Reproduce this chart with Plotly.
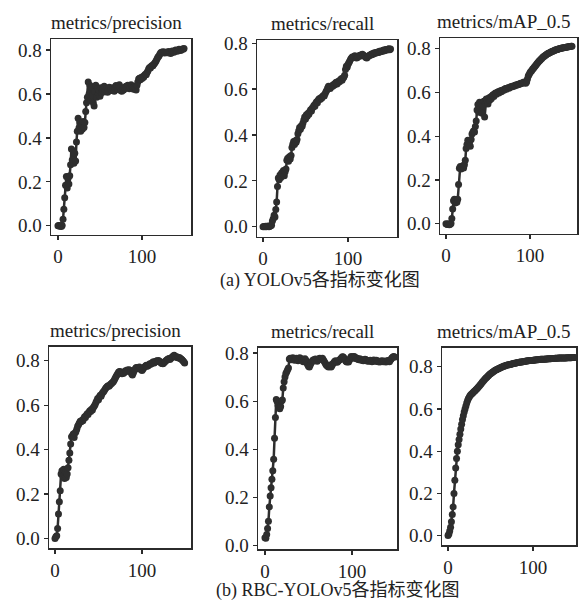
import plotly.graph_objects as go

# ---------------- data ----------------
panel_titles = ["metrics/precision", "metrics/recall", "metrics/mAP_0.5",
                "metrics/precision", "metrics/recall", "metrics/mAP_0.5"]
captions = ["(a) YOLOv5各指标变化图", "(b) RBC-YOLOv5各指标变化图"]
x_ticks = [0, 100]
y_ticks = [0.0, 0.2, 0.4, 0.6, 0.8]

yolo_precision = [
    0.000, 0.001, -0.002, 0.000, -0.003, 0.002, 0.030, 0.075, 0.128, 0.185,
    0.225, 0.172, 0.215, 0.190, 0.228, 0.278, 0.350, 0.300, 0.342, 0.285,
    0.330, 0.295, 0.382, 0.430, 0.490, 0.445, 0.472, 0.430, 0.465, 0.440,
    0.475, 0.448, 0.470, 0.520, 0.560, 0.585, 0.655, 0.600, 0.640, 0.570,
    0.630, 0.595, 0.560, 0.545, 0.610, 0.640, 0.585, 0.625, 0.600, 0.615,
    0.590, 0.628, 0.605, 0.620, 0.612, 0.635, 0.610, 0.618, 0.625, 0.608,
    0.620, 0.630, 0.615, 0.622, 0.618, 0.628, 0.620, 0.612, 0.625, 0.638,
    0.630, 0.620, 0.632, 0.642, 0.628, 0.615, 0.612, 0.625, 0.618, 0.630,
    0.625, 0.635, 0.628, 0.640, 0.632, 0.624, 0.630, 0.642, 0.635, 0.628,
    0.622, 0.630, 0.625, 0.618, 0.640, 0.655, 0.668, 0.672, 0.665, 0.675,
    0.670, 0.680, 0.676, 0.685, 0.690, 0.688, 0.698, 0.705, 0.715, 0.720,
    0.718, 0.726, 0.730, 0.728, 0.735, 0.740, 0.745, 0.752, 0.760, 0.768,
    0.772, 0.780, 0.786, 0.790, 0.788, 0.792, 0.790, 0.786, 0.789, 0.791,
    0.787, 0.790, 0.793, 0.789, 0.784, 0.788, 0.795, 0.792, 0.790, 0.796,
    0.800, 0.797, 0.794, 0.799, 0.803, 0.800, 0.798, 0.802, 0.805, 0.803,
    0.807,
]

yolo_recall = [
    0.000, 0.001, 0.000, 0.002, 0.000, 0.001, 0.003, 0.000, 0.002, 0.004,
    0.006, 0.025, 0.035, 0.050, 0.042, 0.075, 0.108, 0.175, 0.212, 0.205,
    0.225, 0.215, 0.235, 0.228, 0.245, 0.222, 0.240, 0.252, 0.290, 0.298,
    0.285, 0.305, 0.295, 0.310, 0.345, 0.360, 0.372, 0.358, 0.375, 0.368,
    0.380, 0.405, 0.418, 0.432, 0.425, 0.440, 0.438, 0.452, 0.465, 0.478,
    0.470, 0.488, 0.482, 0.495, 0.490, 0.502, 0.510, 0.505, 0.518, 0.522,
    0.530, 0.525, 0.538, 0.545, 0.540, 0.552, 0.558, 0.555, 0.562, 0.560,
    0.568, 0.572, 0.570, 0.580, 0.588, 0.595, 0.605, 0.612, 0.608, 0.602,
    0.610, 0.615, 0.612, 0.620, 0.618, 0.625, 0.630, 0.622, 0.628, 0.635,
    0.632, 0.640, 0.645, 0.638, 0.648, 0.652, 0.660, 0.685, 0.700, 0.695,
    0.708, 0.715, 0.722, 0.730, 0.735, 0.740, 0.738, 0.742, 0.745, 0.740,
    0.735, 0.738, 0.742, 0.745, 0.748, 0.744, 0.750, 0.752, 0.748, 0.745,
    0.742, 0.738, 0.735, 0.740, 0.744, 0.746, 0.748, 0.752, 0.750, 0.755,
    0.753, 0.758, 0.756, 0.760, 0.758, 0.762, 0.760, 0.765, 0.763, 0.766,
    0.764, 0.768, 0.770, 0.767, 0.771, 0.773, 0.770, 0.774, 0.776, 0.772,
    0.775,
]

yolo_map = [
    0.000, -0.002, -0.003, 0.000, -0.004, -0.002, 0.001, 0.024, 0.068, 0.105,
    0.112, 0.095, 0.108, 0.098, 0.112, 0.180, 0.254, 0.262, 0.250, 0.258,
    0.265, 0.255, 0.270, 0.290, 0.344, 0.362, 0.382, 0.368, 0.372, 0.355,
    0.385, 0.410, 0.418, 0.425, 0.420, 0.445, 0.470, 0.520, 0.545, 0.510,
    0.555, 0.530, 0.548, 0.505, 0.540, 0.560, 0.488, 0.552, 0.570, 0.558,
    0.548, 0.575, 0.565, 0.580, 0.572, 0.585, 0.590, 0.582, 0.594, 0.598,
    0.592, 0.600, 0.604, 0.598, 0.606, 0.608, 0.604, 0.610, 0.612, 0.610,
    0.616, 0.618, 0.615, 0.620, 0.622, 0.620, 0.624, 0.626, 0.625, 0.628,
    0.630, 0.629, 0.632, 0.634, 0.633, 0.636, 0.638, 0.637, 0.640, 0.642,
    0.641, 0.644, 0.646, 0.648, 0.645, 0.642, 0.648, 0.662, 0.675, 0.682,
    0.690, 0.696, 0.700, 0.706, 0.710, 0.716, 0.720, 0.725, 0.730, 0.735,
    0.740, 0.744, 0.748, 0.752, 0.756, 0.760, 0.763, 0.766, 0.769, 0.772,
    0.775, 0.777, 0.779, 0.781, 0.783, 0.785, 0.787, 0.789, 0.790, 0.792,
    0.794, 0.795, 0.796, 0.798, 0.799, 0.800, 0.801, 0.802, 0.803, 0.804,
    0.805, 0.806, 0.806, 0.807, 0.808, 0.808, 0.809, 0.810, 0.810, 0.811,
    0.811,
]

rbc_precision = [
    0.000, 0.008, 0.012, 0.045, 0.110, 0.165, 0.215, 0.290, 0.305, 0.280,
    0.312, 0.270, 0.298, 0.275, 0.290, 0.318, 0.352, 0.385, 0.425, 0.458,
    0.462, 0.470, 0.455, 0.475, 0.480, 0.492, 0.505, 0.512, 0.520, 0.528,
    0.525, 0.532, 0.530, 0.540, 0.548, 0.545, 0.555, 0.562, 0.558, 0.568,
    0.575, 0.572, 0.582, 0.578, 0.590, 0.595, 0.602, 0.612, 0.620, 0.630,
    0.625, 0.638, 0.645, 0.640, 0.652, 0.658, 0.662, 0.668, 0.675, 0.680,
    0.684, 0.688, 0.685, 0.690, 0.695, 0.698, 0.702, 0.706, 0.712, 0.720,
    0.728, 0.735, 0.742, 0.748, 0.752, 0.750, 0.746, 0.742, 0.748, 0.744,
    0.750, 0.755, 0.752, 0.758, 0.755, 0.760, 0.757, 0.750, 0.742, 0.736,
    0.745, 0.755, 0.762, 0.768, 0.770, 0.765, 0.768, 0.772, 0.766, 0.760,
    0.756, 0.762, 0.768, 0.772, 0.776, 0.780, 0.775, 0.778, 0.782, 0.786,
    0.784, 0.788, 0.792, 0.795, 0.790, 0.794, 0.798, 0.800, 0.797, 0.801,
    0.798, 0.794, 0.790, 0.788, 0.786, 0.790, 0.795, 0.798, 0.802, 0.806,
    0.808, 0.810, 0.806, 0.810, 0.815, 0.818, 0.822, 0.825, 0.820, 0.816,
    0.818, 0.815, 0.812, 0.815, 0.810, 0.808, 0.805, 0.800, 0.795, 0.790,
]

rbc_recall = [
    0.032, 0.030, 0.045, 0.070, 0.100, 0.160, 0.205, 0.240, 0.275, 0.310,
    0.358, 0.445, 0.532, 0.607, 0.598, 0.582, 0.572, 0.568, 0.578, 0.600,
    0.605, 0.654, 0.680, 0.700, 0.715, 0.722, 0.730, 0.738, 0.775, 0.778,
    0.772, 0.776, 0.780, 0.774, 0.770, 0.776, 0.778, 0.772, 0.768, 0.775,
    0.780, 0.772, 0.776, 0.770, 0.764, 0.772, 0.776, 0.770, 0.760, 0.752,
    0.745, 0.742, 0.750, 0.758, 0.765, 0.770, 0.772, 0.768, 0.775, 0.770,
    0.766, 0.772, 0.776, 0.778, 0.774, 0.776, 0.778, 0.772, 0.766, 0.760,
    0.752, 0.748, 0.745, 0.742, 0.746, 0.750, 0.742, 0.748, 0.755, 0.760,
    0.765, 0.768, 0.764, 0.762, 0.766, 0.770, 0.772, 0.776, 0.780, 0.784,
    0.783, 0.778, 0.772, 0.766, 0.763, 0.768, 0.763, 0.770, 0.778, 0.786,
    0.782, 0.778, 0.786, 0.784, 0.780, 0.776, 0.778, 0.774, 0.772, 0.776,
    0.772, 0.770, 0.772, 0.768, 0.770, 0.774, 0.772, 0.770, 0.766, 0.768,
    0.767, 0.770, 0.767, 0.764, 0.768, 0.771, 0.768, 0.766, 0.770, 0.767,
    0.764, 0.766, 0.763, 0.765, 0.768, 0.766, 0.764, 0.767, 0.765, 0.763,
    0.766, 0.769, 0.766, 0.764, 0.770, 0.775, 0.780, 0.783, 0.785, 0.783,
]

rbc_map = [
    0.000, 0.008, 0.022, 0.040, 0.066, 0.100, 0.136, 0.200, 0.262, 0.320,
    0.365, 0.400, 0.430, 0.455, 0.480, 0.505, 0.528, 0.550, 0.568, 0.585,
    0.600, 0.614, 0.628, 0.640, 0.650, 0.657, 0.664, 0.668, 0.672, 0.676,
    0.680, 0.684, 0.688, 0.692, 0.696, 0.700, 0.705, 0.710, 0.715, 0.720,
    0.725, 0.730, 0.735, 0.740, 0.744, 0.748, 0.752, 0.756, 0.760, 0.764,
    0.767, 0.770, 0.773, 0.776, 0.779, 0.782, 0.784, 0.786, 0.788, 0.790,
    0.792, 0.794, 0.796, 0.798, 0.800, 0.801, 0.803, 0.804, 0.806, 0.807,
    0.808, 0.809, 0.810, 0.811, 0.812, 0.813, 0.814, 0.815, 0.816, 0.817,
    0.818, 0.819, 0.820, 0.820, 0.821, 0.822, 0.823, 0.823, 0.824, 0.825,
    0.825, 0.826, 0.827, 0.827, 0.828, 0.828, 0.829, 0.829, 0.830, 0.830,
    0.831, 0.831, 0.832, 0.832, 0.833, 0.833, 0.833, 0.834, 0.834, 0.835,
    0.835, 0.835, 0.836, 0.836, 0.836, 0.837, 0.837, 0.837, 0.838, 0.838,
    0.838, 0.838, 0.839, 0.839, 0.839, 0.839, 0.840, 0.840, 0.840, 0.840,
    0.841, 0.841, 0.841, 0.841, 0.841, 0.842, 0.842, 0.842, 0.842, 0.842,
    0.843, 0.843, 0.843, 0.843, 0.843, 0.843, 0.844, 0.844, 0.844, 0.844,
]

series = [yolo_precision, yolo_recall, yolo_map, rbc_precision, rbc_recall, rbc_map]

# ---------------- layout (pixel boxes of each panel) ----------------
W, H = 585, 608
boxes = [  # left, top, right, bottom in pixels
    (51, 33, 191, 233), (257, 34, 397, 235), (440, 32, 577, 232),
    (49, 348, 191, 554), (258, 349, 397, 555), (442, 349, 576, 551),
]
x_ranges = [(-8.3, 158.3), (-7.1, 157.6), (-7.1, 156.0),
            (-6.9, 156.3), (-8.0, 151.7), (-7.1, 150.6)]
y_ranges = [(-0.040, 0.849), (-0.043, 0.813), (-0.045, 0.848),
            (-0.044, 0.862), (-0.016, 0.821), (-0.046, 0.889)]

FONT = "Liberation Serif, Times New Roman, Noto Sans CJK SC, serif"
INK = "#2e2e2e"
AX = "#2b2b2b"
TXT = "#222222"

fig = go.Figure()
layout = dict(
    width=W, height=H, margin=dict(l=0, r=0, t=0, b=0),
    paper_bgcolor="white", plot_bgcolor="white", showlegend=False,
    font=dict(family=FONT, size=19, color=TXT),
)
annotations = []
for i, (vals, box) in enumerate(zip(series, boxes)):
    k = "" if i == 0 else str(i + 1)
    epochs = list(range(len(vals)))
    fig.add_trace(go.Scatter(
        x=epochs, y=vals, mode="lines+markers",
        line=dict(color=INK, width=2.5),
        marker=dict(color=INK, size=7),
        xaxis="x" + k, yaxis="y" + k, hoverinfo="skip",
    ))
    l, t, r, b = box
    common = dict(showgrid=False, zeroline=False, showline=True, mirror=True,
                  linecolor=AX, linewidth=1.5, ticks="outside", ticklen=4,
                  tickwidth=1.2, tickcolor=AX,
                  tickfont=dict(family=FONT, size=19, color=TXT))
    layout["xaxis" + k] = dict(domain=[l / W, r / W], range=list(x_ranges[i]),
                               anchor="y" + k, tickvals=x_ticks, **common)
    layout["yaxis" + k] = dict(domain=[1 - b / H, 1 - t / H], range=list(y_ranges[i]),
                               anchor="x" + k, tickvals=y_ticks, tickformat=".1f",
                               **common)
    annotations.append(dict(
        text=panel_titles[i], x=((l + r) / 2 - 5) / W, y=1 - (t - 17) / H,
        xref="paper", yref="paper", showarrow=False, xanchor="center",
        yanchor="middle", font=dict(family=FONT, size=19, color=TXT)))

annotations.append(dict(text=captions[0], x=320 / W, y=1 - 280 / H, xref="paper",
                        yref="paper", showarrow=False, xanchor="center", yanchor="middle",
                        font=dict(family=FONT, size=18, color=TXT)))
annotations.append(dict(text=captions[1], x=338 / W, y=1 - 597 / H, xref="paper",
                        yref="paper", showarrow=False, xanchor="center", yanchor="middle",
                        font=dict(family=FONT, size=18, color=TXT)))
layout["annotations"] = annotations
fig.update_layout(**layout)

# remove the browser's default page margin so the 585x608 figure fills the window
fig.write_html(
    "out.html",
    config={"displayModeBar": False, "staticPlot": True},
    post_script="document.body.style.margin='0';document.body.style.overflow='hidden';",
)
